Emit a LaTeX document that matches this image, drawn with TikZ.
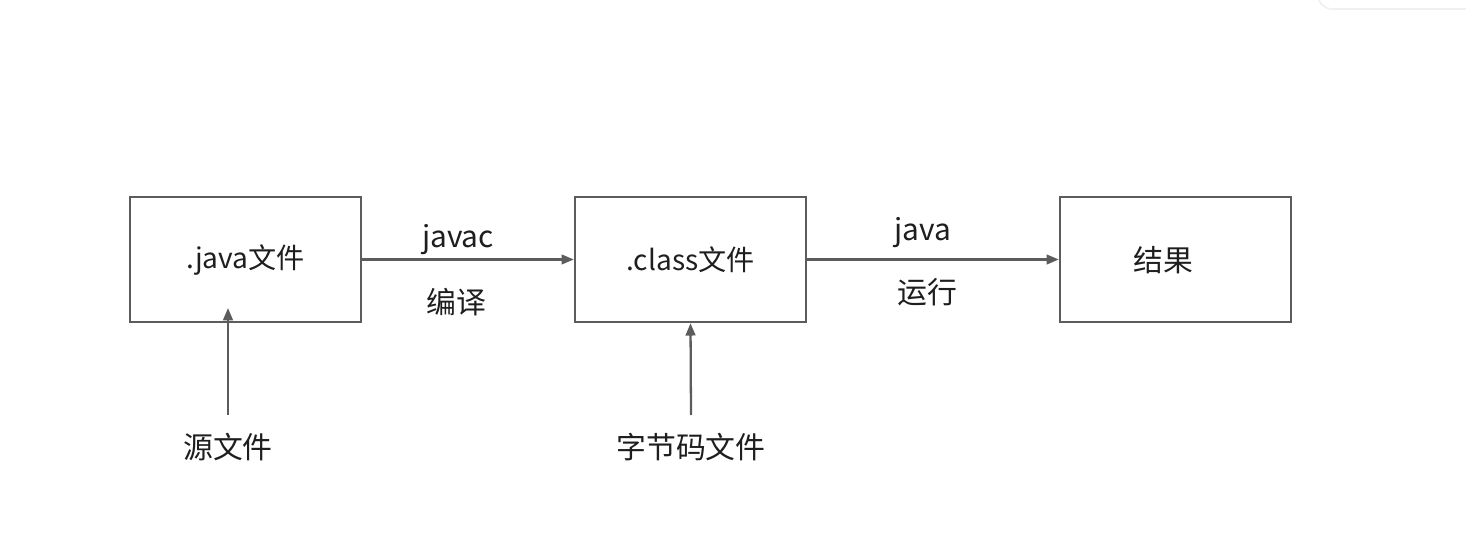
\documentclass[tikz,border=0pt]{standalone}
\usepackage{fontspec}
\setmainfont{Noto Sans CJK SC}
\usepackage{tikz}
\usetikzlibrary{calc}
\usetikzlibrary{arrows.meta}

\definecolor{lineGray}{HTML}{5c5c5c}
\definecolor{textGray}{HTML}{1e1e1e}

\begin{document}
\begin{tikzpicture}[x=0.02cm, y=-0.02cm,
    box/.style={draw=lineGray, line width=1.4pt, minimum width=4.62cm, minimum height=2.5cm, text=textGray, font=\fontsize{16}{19}\selectfont},
    flow/.style={draw=lineGray, line width=1.3pt, -{Triangle[length=7pt, width=5.5pt]}},
    lbl/.style={text=textGray, font=\fontsize{17}{20}\selectfont}]
    % Page size of the reference
    \useasboundingbox (0,0) rectangle (1466,553);

    % faint panel in the top right corner
    \draw[gray!12, line width=1pt, rounded corners=8pt] (1318,-20) -- (1318,9) -- (1490,9);

    % The three boxes
    \node[box] (javaFile) at (245.5,259.5) {.java文件};
    \node[box] (classFile) at (690.5,259.5) {.class文件};
    \node[box] (result) at (1175.5,259.5) {};
    \node[lbl] (resultText) at ($(result)+(-12,1)$) {结果};

    % compile and run
    \draw[flow] (javaFile) -- (classFile);
    \node[lbl] (javacLbl) at (458,240) {javac};
    \node[lbl] (compileLbl) at (456,302) {编译};
    \draw[flow] (classFile) -- (result);
    \node[lbl] (javaLbl) at (923,233) {java};
    \node[lbl] (runLbl) at (927,292) {运行};

    % labels underneath
    \node[lbl] (source) at (228,447) {源文件};
    \node[lbl] (bytecode) at (691,447) {字节码文件};
    \coordinate (sourceTip) at (228,308);

    % arrows from the labels
    \draw[flow] (source.north |- 0,415) -- (sourceTip);
    \draw[flow] (bytecode.north |- 0,415) -- (classFile.south);

\end{tikzpicture}
\end{document}
